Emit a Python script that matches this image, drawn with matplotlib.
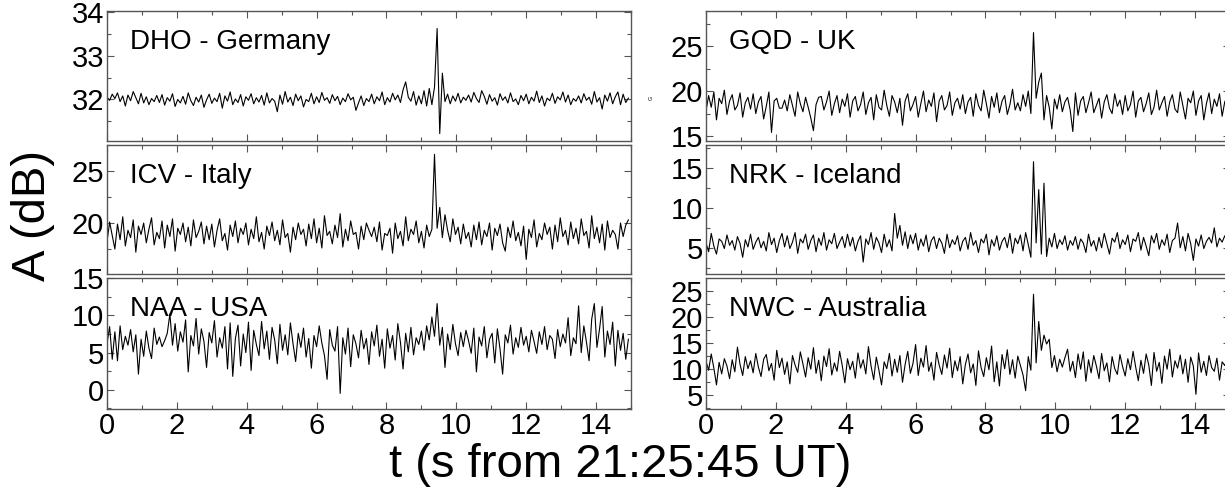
import numpy as np
import matplotlib
matplotlib.use("Agg")
import matplotlib.pyplot as plt
from matplotlib.ticker import MultipleLocator, AutoMinorLocator

plt.rcParams['font.family'] = ['Liberation Sans', 'DejaVu Sans']

# amplitudes, one sample every 0.075 s (rows of 1.5 s)
dho = [32.05, 31.98, 32.12, 32.02, 32.15, 31.95, 32.08, 31.85, 32.10, 31.97, 32.18, 32.04, 31.90, 32.14, 31.92, 32.06, 31.88, 32.02, 31.95, 32.09,
       31.93, 32.11, 31.87, 32.04, 31.96, 32.13, 31.84, 32.00, 31.92, 32.07, 31.89, 32.15, 31.97, 31.86, 32.05, 31.94, 32.10, 31.82, 31.99, 32.12,
       31.91, 32.03, 31.95, 32.14, 31.80, 32.08, 31.96, 32.17, 31.88, 32.01, 31.93, 32.11, 31.85, 32.06, 31.98, 32.13, 31.90, 32.04, 31.94, 32.09,
       31.87, 32.15, 31.92, 32.02, 31.96, 31.72, 32.10, 31.89, 32.18, 31.94, 32.05, 31.86, 32.12, 31.97, 32.08, 31.83, 32.00, 31.95, 32.14, 31.90,
       32.06, 31.93, 32.16, 31.98, 32.04, 31.91, 32.11, 31.97, 32.07, 31.88, 32.03, 31.95, 32.13, 31.99, 32.05, 31.75, 31.92, 32.08, 31.86, 32.02,
       31.95, 32.12, 31.90, 32.06, 31.97, 32.17, 31.88, 32.04, 31.94, 32.14, 31.99, 32.10, 31.93, 32.22, 32.40, 32.05, 31.96, 32.18, 31.87, 32.08,
       31.90, 32.20, 31.85, 32.25, 31.88, 32.28, 33.62, 31.22, 32.60, 31.95, 32.12, 31.90, 32.08, 31.96, 32.14, 31.92, 32.05, 31.98, 32.10, 31.94,
       32.16, 32.02, 31.93, 32.20, 32.07, 31.89, 32.11, 31.96, 32.04, 31.87, 32.13, 31.98, 32.06, 31.92, 32.15, 31.95, 32.01, 31.88, 32.09, 31.97,
       32.12, 31.90, 32.05, 31.96, 32.19, 31.93, 32.08, 31.85, 32.03, 31.97, 32.14, 31.91, 32.06, 31.99, 32.17, 31.94, 32.10, 31.88, 32.02, 31.96,
       32.08, 31.92, 32.13, 31.98, 32.05, 31.89, 32.18, 31.94, 32.04, 31.78, 32.10, 31.96, 32.15, 31.90, 32.06, 32.17, 31.88, 32.12, 31.93, 32.03]

gqd = [17.8, 19.5, 18.2, 19.9, 16.8, 19.2, 18.6, 20.1, 17.4, 18.9, 19.6, 17.9, 18.4, 19.8, 17.1, 18.7, 19.3, 18.0, 19.7, 17.5,
       18.8, 19.4, 16.9, 18.3, 19.9, 15.4, 18.9, 19.2, 18.1, 18.1, 19.0, 17.8, 19.6, 18.4, 17.2, 19.9, 18.6, 17.7, 19.3, 18.2,
       17.0, 15.6, 18.5, 19.3, 19.4, 17.9, 18.8, 20.0, 17.3, 18.6, 19.5, 17.6, 19.1, 18.3, 19.7, 17.1, 18.9, 19.4, 17.8, 18.5,
       19.9, 17.4, 18.7, 19.3, 16.8, 19.6, 18.2, 17.9, 20.1, 18.4, 17.2, 19.5, 18.8, 17.6, 19.2, 16.2, 18.9, 19.7, 17.8, 18.5,
       19.4, 17.1, 18.6, 20.0, 17.7, 19.0, 18.3, 19.8, 16.6, 18.9, 19.5, 17.9, 18.4, 19.9, 17.3, 18.7, 19.2, 18.0, 19.6, 17.5,
       18.8, 19.3, 17.2, 19.7, 18.4, 17.8, 20.1, 18.6, 17.0, 19.4, 18.2, 19.8, 17.6, 18.9, 19.5, 17.4, 18.5, 20.2, 17.9, 18.7,
       17.8, 19.6, 18.3, 20.0, 17.5, 26.5, 19.2, 21.0, 22.0, 16.8, 19.5, 18.2, 15.8, 19.1, 18.0, 19.6, 17.7, 18.8, 19.3, 17.9,
       15.5, 19.8, 17.3, 18.9, 19.4, 17.6, 18.7, 19.9, 17.6, 18.4, 19.2, 17.0, 18.8, 19.6, 18.1, 17.5, 19.7, 18.3, 19.0, 17.4,
       19.5, 17.8, 18.5, 20.0, 17.1, 18.9, 19.3, 17.7, 18.6, 19.8, 17.4, 18.2, 20.1, 17.9, 18.7, 19.4, 17.2, 18.8, 19.6, 18.0,
       17.6, 19.9, 18.4, 16.9, 19.2, 18.7, 20.0, 17.3, 18.9, 19.5, 16.8, 18.6, 19.8, 17.5, 19.1, 18.3, 19.7, 17.2, 18.8, 19.4]

icv = [18.2, 20.1, 18.8, 17.5, 19.9, 18.4, 20.6, 17.8, 19.3, 18.6, 20.3, 17.2, 19.7, 18.9, 20.0, 18.1, 19.4, 20.5, 17.9, 19.1,
       18.5, 20.2, 17.6, 19.8, 18.7, 20.4, 17.3, 19.5, 18.9, 20.0, 18.2, 19.6, 17.8, 20.3, 18.6, 19.2, 20.1, 18.0, 19.7, 18.4,
       19.9, 17.7, 19.3, 20.4, 18.3, 19.0, 17.4, 19.8, 18.7, 20.2, 18.1, 19.5, 18.9, 20.0, 17.9, 19.4, 18.5, 20.6, 18.2, 19.1,
       17.5, 19.7, 18.8, 20.1, 18.3, 19.3, 17.9, 20.3, 18.6, 19.0, 17.2, 19.6, 18.4, 20.0, 18.9, 19.4, 17.8, 19.9, 18.5, 20.4,
       18.1, 19.5, 17.6, 20.7, 18.8, 19.2, 18.0, 19.8, 18.6, 20.9, 17.7, 19.4, 18.3, 20.2, 18.9, 19.1, 17.5, 19.7, 18.4, 20.0,
       19.3, 18.7, 19.6, 18.2, 20.1, 17.4, 19.0, 18.8, 19.5, 17.1, 20.0, 18.5, 19.2, 17.8, 20.6, 18.3, 19.4, 18.9, 20.2, 18.1,
       19.2, 17.6, 19.8, 18.7, 19.4, 26.6, 19.5, 21.5, 18.6, 20.8, 19.3, 18.2, 20.4, 18.9, 19.6, 18.0, 19.9, 18.5, 19.1, 17.7,
       19.8, 18.4, 20.1, 17.9, 19.3, 18.7, 20.0, 17.4, 19.5, 18.8, 19.9, 18.1, 17.3, 19.6, 18.6, 20.2, 18.3, 19.1, 17.8, 19.7,
       16.5, 19.4, 18.6, 20.3, 17.7, 19.0, 18.4, 20.0, 18.9, 19.6, 17.5, 19.8, 18.2, 20.5, 18.7, 19.3, 17.9, 20.1, 18.5, 19.5,
       18.0, 20.4, 18.8, 19.2, 17.6, 20.7, 18.5, 19.6, 18.1, 19.9, 17.4, 20.2, 18.6, 19.3, 18.9, 17.5, 20.0, 18.7, 19.8, 20.3]

nrk = [5.6, 4.5, 6.8, 5.2, 4.2, 6.1, 5.8, 4.9, 6.6, 5.3, 5.9, 4.7, 6.4, 5.5, 3.8, 6.0, 5.1, 6.7, 4.8, 5.7,
       6.3, 5.0, 5.8, 4.6, 6.9, 5.4, 6.2, 4.4, 5.9, 6.8, 5.1, 6.5, 4.9, 5.7, 6.9, 4.3, 6.1, 5.6, 6.7, 4.8,
       5.9, 6.6, 4.5, 6.2, 5.3, 6.9, 4.7, 6.0, 5.5, 6.8, 4.9, 5.7, 6.4, 5.0, 6.7, 5.2, 6.3, 4.6, 5.8, 6.5,
       3.2, 6.1, 5.4, 6.9, 4.8, 6.3, 5.6, 4.4, 6.7, 5.1, 6.0, 4.6, 9.3, 6.2, 7.8, 5.3, 7.0, 4.9, 6.6, 5.5,
       6.8, 4.7, 6.1, 5.2, 6.6, 4.5, 5.9, 6.4, 4.9, 6.2, 5.6, 4.3, 6.7, 5.0, 6.0, 5.4, 6.5, 4.6, 5.8, 6.3,
       4.8, 6.9, 5.3, 5.9, 4.4, 6.1, 5.6, 6.7, 4.1, 6.0, 5.2, 6.5, 4.7, 5.8, 6.3, 5.0, 6.8, 4.3, 6.2, 5.5,
       6.6, 4.6, 6.9, 5.4, 3.8, 15.8, 5.6, 12.3, 4.2, 13.1, 3.9, 6.2, 5.1, 6.8, 4.9, 6.0, 5.4, 6.5, 4.7, 5.9,
       5.3, 6.4, 4.8, 6.1, 5.6, 4.4, 6.7, 5.2, 5.9, 4.6, 6.3, 5.0, 6.8, 5.5, 4.2, 6.2, 5.7, 6.9, 4.9, 6.0,
       5.4, 6.6, 4.5, 6.1, 5.8, 6.9, 4.7, 6.3, 5.2, 4.0, 6.5, 5.6, 6.8, 4.8, 6.0, 5.3, 6.7, 4.4, 5.9, 6.2,
       8.1, 5.0, 6.4, 4.6, 6.8, 5.5, 3.4, 6.1, 5.2, 6.6, 4.9, 5.8, 6.3, 5.6, 7.5, 5.1, 6.2, 5.7, 6.5, 5.9]

naa = [6.2, 8.5, 4.1, 7.8, 3.9, 8.6, 5.4, 7.2, 6.0, 8.1, 5.1, 7.4, 2.1, 6.8, 4.5, 7.9, 5.6, 4.2, 8.3, 6.1,
       7.1, 5.8, 6.6, 7.6, 10.2, 6.0, 8.9, 5.2, 7.8, 6.4, 9.4, 2.4, 7.3, 5.9, 9.6, 4.8, 8.2, 6.5, 3.0, 7.7,
       6.3, 9.3, 4.4, 7.0, 5.6, 8.5, 2.8, 9.0, 1.8, 6.9, 8.7, 3.2, 7.5, 5.0, 9.1, 2.6, 8.0, 6.1, 4.6, 9.2,
       5.5, 7.9, 4.1, 8.4, 6.7, 3.5, 8.8, 5.3, 7.4, 4.7, 9.0, 6.2, 3.8, 7.6, 5.7, 8.3, 4.4, 6.9, 2.9, 7.3,
       5.8, 8.6, 6.3, 4.6, 1.4, 8.1, 6.0, 5.2, 8.5, -0.5, 7.0, 4.8, 8.3, 3.1, 7.4, 6.2, 4.3, 8.0, 5.5, 6.9,
       3.4, 7.8, 5.9, 8.7, 4.5, 6.8, 2.9, 8.2, 5.6, 7.3, 4.0, 8.9, 6.4, 2.8, 7.6, 5.1, 8.4, 4.7, 7.0, 6.1,
       7.9, 5.3, 8.6, 6.7, 9.8, 7.2, 11.6, 6.0, 8.4, 3.0, 7.5, 5.4, 8.8, 6.2, 4.6, 7.7, 5.8, 8.0, 6.6, 4.9,
       8.3, 2.4, 7.1, 5.9, 8.5, 4.3, 6.8, 7.6, 3.6, 8.2, 5.5, 2.1, 7.4, 6.3, 8.7, 4.8, 7.0, 5.7, 8.4, 6.0,
       7.2, 5.1, 8.0, 6.5, 4.9, 7.8, 6.1, 8.5, 5.4, 7.3, 6.8, 4.2, 8.1, 5.8, 7.5, 6.3, 9.7, 4.6, 7.0, 6.2,
       11.3, 5.0, 8.6, 6.4, 3.9, 9.5, 11.6, 5.7, 8.2, 11.2, 4.4, 7.9, 6.1, 9.1, 3.2, 8.0, 5.3, 7.6, 4.1, 6.8]

nwc = [11.5, 9.8, 12.9, 10.2, 7.0, 11.3, 9.1, 12.0, 10.6, 8.2, 11.8, 9.5, 14.2, 10.9, 8.8, 12.4, 10.1, 11.6, 9.3, 13.0,
       10.4, 8.6, 11.9, 12.8, 9.7, 11.1, 7.9, 13.6, 10.3, 12.1, 9.0, 11.4, 7.2, 12.6, 10.8, 9.4, 13.3, 11.0, 8.5, 12.2,
       10.0, 14.1, 9.2, 11.7, 7.8, 12.5, 10.5, 13.9, 8.9, 11.2, 9.6, 13.4, 10.7, 7.4, 12.0, 9.9, 11.5, 8.3, 13.1, 10.2,
       11.8, 9.1, 14.3, 10.6, 8.0, 12.3, 9.8, 7.0, 11.4, 10.1, 13.0, 8.7, 11.9, 9.4, 12.6, 7.5, 10.9, 13.4, 9.2, 11.1,
       14.7, 8.8, 12.1, 10.4, 14.5, 9.6, 11.3, 7.9, 13.2, 10.8, 9.0, 12.7, 10.2, 14.0, 8.4, 11.6, 9.7, 12.4, 7.2, 10.9,
       12.9, 9.3, 11.0, 6.9, 13.5, 10.3, 8.6, 12.2, 9.9, 14.4, 7.6, 11.4, 6.8, 12.8, 10.1, 13.7, 9.0, 11.8, 8.3, 12.5,
       10.7, 8.9, 5.9, 12.4, 9.8, 24.3, 11.2, 19.1, 13.6, 16.5, 14.8, 15.7, 10.3, 12.6, 9.5, 11.9, 10.4, 12.2, 13.8, 9.6,
       11.5, 8.4, 12.9, 10.0, 13.3, 7.7, 11.8, 9.3, 12.6, 10.6, 8.2, 13.0, 9.7, 11.2, 7.6, 12.4, 10.1, 9.0, 12.8, 10.5,
       8.7, 12.0, 9.9, 13.4, 10.4, 7.8, 11.7, 9.2, 12.9, 10.8, 6.9, 13.2, 9.6, 11.3, 7.3, 12.5, 10.0, 13.8, 8.5, 11.6,
       10.2, 12.7, 9.1, 11.9, 7.5, 12.3, 10.6, 5.2, 13.1, 9.4, 11.5, 8.8, 12.6, 10.3, 9.6, 12.1, 7.9, 11.4, 10.7, 12.0]

t = np.arange(len(dho)) * 0.075

# (series, label, ylim, major y step) for each panel
panels_left = [(dho, 'DHO - Germany', (31.05, 34.02), 1),
               (icv, 'ICV - Italy', (15.1, 27.5), 5),
               (naa, 'NAA - USA', (-2.6, 15.05), 5)]
panels_right = [(gqd, 'GQD - UK', (14.45, 28.9), 5),
                (nrk, 'NRK - Iceland', (1.7, 17.9), 5),
                (nwc, 'NWC - Australia', (2.4, 27.4), 5)]

W, H = 1225, 495
fig = plt.figure(figsize=(W / 100, H / 100), dpi=100)

rows = [(11, 141), (145, 274), (278, 409)]
cols = [(107, 631), (706, 1230)]
frame_col = '#555555'

for ci, panels in enumerate([panels_left, panels_right]):
    x0, x1 = cols[ci]
    for ri, (y, label, ylim, step) in enumerate(panels):
        top, bot = rows[ri]
        ax = fig.add_axes([x0 / W, 1 - bot / H, (x1 - x0) / W, (bot - top) / H])
        ax.plot(t, y, color='black', lw=0.8)
        ax.set_xlim(0, 15)
        ax.set_ylim(*ylim)
        ax.xaxis.set_major_locator(MultipleLocator(2))
        ax.xaxis.set_minor_locator(MultipleLocator(1))
        ax.yaxis.set_major_locator(MultipleLocator(step))
        ax.yaxis.set_minor_locator(AutoMinorLocator(2))
        ax.tick_params(which='both', direction='in', top=True, right=True,
                       color=frame_col, width=0.8, labelsize=21, pad=2)
        ax.tick_params(which='major', length=5)
        ax.tick_params(which='minor', length=3)
        for s in ax.spines.values():
            s.set_color(frame_col)
            s.set_linewidth(1.0)
        if ri < 2:
            ax.tick_params(labelbottom=False)
        ax.text(23 / (x1 - x0), 0.76, label, transform=ax.transAxes,
                fontsize=20, va='center', ha='left')

fig.text(33 / W, 1 - 216 / H, 'A (dB)', rotation=90, fontsize=34,
         ha='center', va='center')
fig.text(620 / W, 1 - 465 / H, 't (s from 21:25:45 UT)', fontsize=34,
         ha='center', va='center')
fig.text(651 / W, 1 - 98 / H, 'G', rotation=90, fontsize=4,
         ha='center', va='center')

fig.savefig('out.png', dpi=100)
